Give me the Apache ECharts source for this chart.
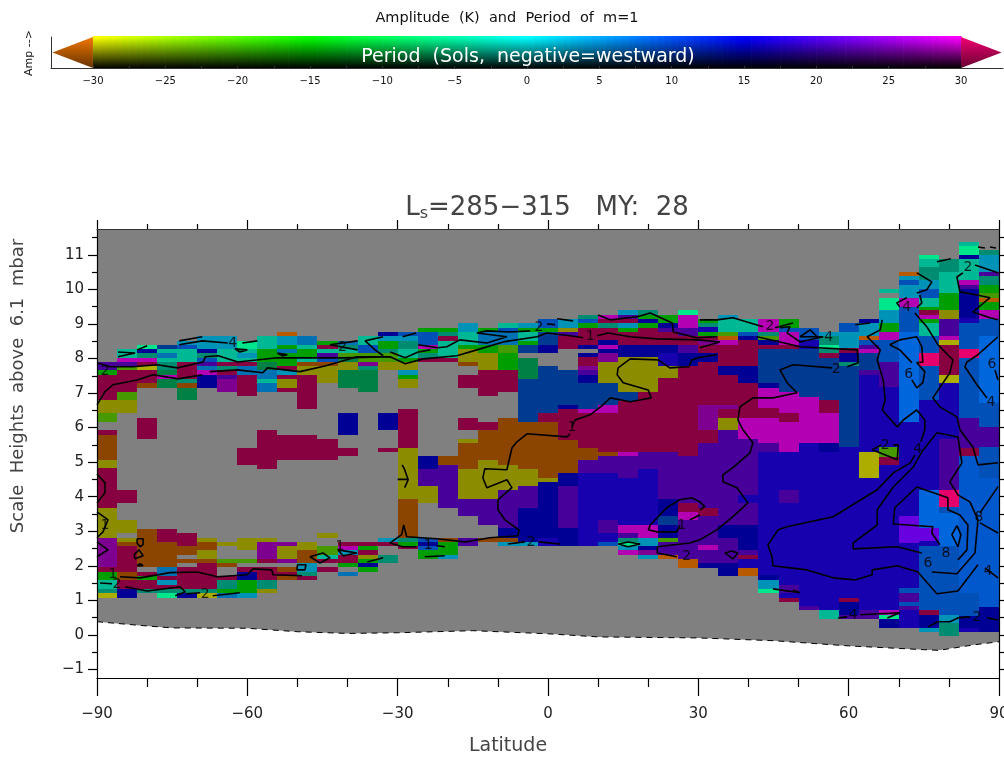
<!DOCTYPE html>
<html>
<head>
<meta charset="utf-8">
<title>Amplitude and Period of m=1</title>
<style>
html, body { margin: 0; padding: 0; background: #fff; }
#echart { width: 1004px; height: 761px; }
</style>
<script src="https://cdn.jsdelivr.net/npm/echarts@6/dist/echarts.min.js"></script>
</head>
<body>
<div id="echart"></div>
<script>
var FONT = '"DejaVu Sans", sans-serif';

var tonePeriod = {C:33,R:33,O:-33,F:-33,Y:-30,L:-30,E:-22,G:-15,H:-7,T:-3,A:-3,Q:-6,S:3,W:5.5,U:9,J:8.5,B:8.5,K:8,N:15,I:17,V:22,Z:22,P:28,M:30};
var toneAmp = {C:.53,R:.9,O:.55,F:.72,Y:.55,L:.68,E:.6,G:.62,H:.5,T:.55,A:.72,Q:.9,S:.72,W:.7,U:.57,J:.72,B:.8,K:.86,N:.58,I:.68,V:.6,Z:.88,P:.57,M:.7};

// one stack per latitude bin, bottom to top: height, tone, height, tone ... height ('_' = no data)
var latBins = [-88,-84,-80,-76,-72,-68,-64,-60,-56,-52,-48,-44,-40,-36,-32,-28,-24,-20,-16,-12,-8,-4,0,4,8,12,16,20,24,28,32,36,40,44,48,52,56,60,64,68,72,76,80,84,88];
var cellStacks = [
[1.07,'L',1.22,'T',1.33,'A',1.59,'G',1.82,'C',1.97,'P',2.81,'Y',3.68,'C',4.84,'Y',5.07,'O',5.79,'C',5.94,'_',6.17,'E',6.43,'Y',6.80,'C',7.53,'G',7.67,'V',7.90],
[1.07,'N',1.33,'C',1.59,'O',1.82,'C',2.58,'O',2.69,'Y',2.81,'_',2.95,'Y',3.33,'_',3.82,'C',4.20,'_',6.43,'Y',6.80,'E',7.04,'C',7.67,'E',7.79,'V',7.90,'M',8.02,'A',8.28],
[1.22,'T',1.33,'C',1.59,'G',1.71,'C',1.82,'_',1.97,'O',3.07,'_',5.67,'C',6.28,'_',7.15,'O',7.30,'C',7.67,'L',7.79,'C',7.90,'M',8.02,'T',8.16,'N',8.28,'Q',8.40],
[1.07,'Q',1.22,'T',1.33,'C',1.45,'S',1.59,'C',1.71,'W',1.97,'O',2.69,'C',3.07,'_',7.15,'H',7.41,'M',7.53,'H',7.67,'T',7.90,'A',8.02,'W',8.16,'A',8.28,'U',8.40],
[1.07,'N',1.22,'T',1.33,'C',1.97,'_',2.08,'O',2.20,'_',2.32,'O',2.58,'C',2.95,'_',6.80,'H',7.15,'O',7.30,'T',7.41,'C',7.90,'A',8.28,'J',8.40,'S',8.51],
[1.07,'L',1.22,'T',1.33,'C',2.08,'O',2.20,'Y',2.46,'O',2.69,'Y',2.81,'_',7.15,'N',7.53,'M',7.67,'W',7.79,'V',7.90,'J',8.02,'T',8.16,'N',8.28,'S',8.66],
[1.07,'W',1.22,'G',1.33,'T',1.59,'C',1.71,'_',1.97,'O',2.08,'E',2.20,'_',2.58,'Y',2.69,'_',7.04,'P',7.41,'V',7.53,'C',7.67,'T',7.79,'C',7.90,'A',8.28,'S',8.66],
[1.07,'S',1.22,'G',1.59,'N',1.82,'C',1.97,'_',2.08,'E',2.20,'_',2.46,'Y',2.81,'_',4.92,'C',5.41,'_',6.92,'C',7.53,'W',7.79,'C',7.90,'A',8.02,'S',8.16,'A',8.28,'Q',8.51],
[1.22,'Y',1.33,'T',1.59,'C',1.97,'_',2.08,'C',2.20,'P',2.69,'Y',2.81,'_',4.81,'C',5.94,'_',7.04,'W',7.30,'A',7.41,'W',7.67,'H',7.90,'G',8.28,'A',8.66],
[1.59,'O',1.71,'C',1.82,'O',1.97,'_',2.08,'P',2.20,'Y',2.58,'P',2.69,'_',5.07,'C',5.79,'_',7.04,'C',7.15,'Y',7.41,'C',7.53,'S',7.67,'C',7.79,'G',8.16,'W',8.28,'G',8.40,'S',8.66,'F',8.77],
[1.59,'C',1.71,'T',1.82,'S',2.08,'O',2.46,'Y',2.69,'_',5.07,'C',5.79,'_',6.54,'C',7.53,'Y',7.79,'O',7.90,'A',8.02,'G',8.28,'A',8.40,'W',8.66],
[1.82,'C',1.97,'_',2.08,'C',2.20,'A',2.32,'E',2.58,'_',2.81,'Y',2.95,'_',5.07,'C',5.67,'_',7.30,'Y',7.79,'O',7.90,'J',8.02,'V',8.16,'A',8.28,'C',8.40,'G',8.51],
[1.71,'W',1.82,'_',1.97,'G',2.08,'C',2.32,'S',2.46,'M',2.58,'C',2.69,'_',5.18,'C',5.41,'_',5.79,'N',6.43,'_',7.15,'H',7.67,'Y',7.90,'H',8.02,'E',8.16,'A',8.28,'T',8.40,'W',8.51],
[1.82,'G',1.97,'N',2.08,'G',2.20,'Y',2.32,'C',2.46,'G',2.58,'C',2.69,'_',7.04,'H',7.67,'T',7.79,'P',7.90,'E',8.16,'J',8.40,'A',8.66],
[2.08,'T',2.32,'_',2.58,'C',2.69,'S',2.81,'_',5.30,'C',5.41,'_',5.94,'N',6.43,'_',7.67,'Y',7.90,'E',8.16,'T',8.28,'G',8.51,'S',8.66,'N',8.77],
[2.49,'C',2.58,'G',2.69,'T',2.81,'O',3.94,'Y',5.41,'C',6.54,'_',7.15,'Y',7.41,'G',7.53,'S',7.67,'Y',7.90,'G',8.02,'A',8.28,'T',8.51,'S',8.66,'J',8.77],
[2.20,'G',2.46,'J',2.58,'N',2.69,'J',2.81,'_',3.82,'Y',4.31,'V',4.81,'N',5.18,'_',7.90,'C',8.02,'T',8.16,'G',8.28,'M',8.40,'J',8.77,'G',8.89],
[2.20,'S',2.32,'G',2.69,'O',2.81,'_',3.68,'V',4.92,'O',5.18,'_',7.90,'C',8.02,'A',8.51,'C',8.66,'T',8.77,'G',8.89],
[2.58,'V',2.81,'_',3.45,'V',3.94,'Y',4.81,'O',5.56,'Y',5.67,'_',5.94,'C',6.28,'_',7.15,'C',7.53,'_',7.79,'O',7.90,'Y',8.28,'G',8.40,'A',8.77,'S',9.03],
[2.69,'O',2.81,'_',3.18,'V',3.94,'Y',5.07,'O',5.94,'C',6.17,'_',6.92,'C',7.67,'Y',8.16,'G',8.40,'W',8.77,'G',8.89],
[2.58,'S',2.69,'O',2.81,'N',3.10,'V',4.20,'Y',4.92,'O',6.28,'_',7.04,'C',7.67,'G',8.16,'E',8.40,'W',8.77,'J',8.89,'A',9.03],
[2.58,'S',2.69,'N',3.68,'V',4.31,'Y',4.81,'O',6.17,'U',7.41,'H',8.02,'_',8.16,'U',8.40,'G',8.51,'A',8.77,'G',8.89,'S',9.03],
[2.58,'I',2.81,'N',4.43,'Y',4.55,'O',6.17,'C',6.43,'U',7.79,'_',8.16,'N',8.40,'U',8.77,'G',8.89,'J',9.15],
[2.58,'N',3.10,'V',4.31,'N',4.69,'O',5.64,'C',6.54,'N',6.66,'U',7.67,'_',8.28,'C',8.66,'V',8.77,'Y',8.89,'S',9.15],
[2.58,'I',4.69,'V',5.07,'O',5.41,'C',6.43,'M',6.54,'U',7.30,'N',7.53,'V',7.67,'P',7.79,'C',8.05,'N',8.16,'_',8.28,'N',8.40,'C',8.89,'G',9.03,'J',9.15,'T',9.26],
[2.58,'J',2.69,'I',2.95,'V',3.33,'I',4.69,'V',5.18,'O',5.30,'C',6.43,'M',6.66,'U',7.30,'Y',7.90,'P',8.16,'N',8.28,'M',8.40,'N',8.54,'C',8.89,'T',9.03,'C',9.15,'M',9.26],
[2.32,'M',2.46,'S',2.58,'Q',2.69,'T',2.81,'V',2.95,'M',3.18,'I',4.55,'V',5.18,'M',5.30,'C',6.77,'U',7.04,'Y',8.05,'N',8.40,'C',8.77,'G',8.89,'S',9.03,'C',9.15,'V',9.26,'S',9.41],
[2.20,'S',2.32,'P',2.46,'N',2.58,'S',2.81,'M',3.18,'I',4.81,'V',5.30,'C',7.04,'Y',8.05,'N',8.40,'C',8.89,'G',9.03,'N',9.15,'G',9.26,'T',9.41],
[2.20,'F',2.32,'V',2.69,'E',2.81,'N',3.18,'U',3.45,'N',3.94,'V',5.30,'C',7.44,'Y',7.79,'I',8.16,'N',8.40,'C',8.77,'V',8.89,'N',9.03,'G',9.26],
[1.94,'F',2.20,'V',3.33,'M',3.56,'C',3.82,'V',5.18,'C',7.79,'N',8.16,'V',8.40,'C',8.66,'V',8.89,'M',9.26,'Q',9.41],
[1.94,'N',2.08,'V',2.46,'M',2.60,'V',3.45,'C',3.68,'V',5.56,'C',5.94,'P',6.66,'C',7.90,'N',8.16,'C',8.40,'P',8.54,'C',8.66,'G',8.77,'I',8.92,'T',9.03,'G',9.15],
[1.71,'N',2.08,'V',2.81,'N',3.18,'V',5.94,'Y',6.28,'C',6.54,'P',6.66,'C',7.53,'N',7.79,'C',8.40,'M',8.54,'F',8.66,'E',8.77,'A',9.15,'S',9.26],
[1.71,'F',1.94,'I',2.20,'C',2.32,'V',2.46,'N',3.18,'V',3.82,'I',4.05,'V',5.67,'M',6.28,'C',7.30,'N',7.79,'C',8.54,'N',8.66,'J',8.77,'A',9.15],
[1.22,'Q',1.33,'S',1.59,'N',1.74,'I',5.30,'V',5.56,'M',6.28,'C',6.57,'M',7.15,'N',7.30,'U',8.28,'C',8.40,'N',8.54,'E',8.66,'T',8.77,'M',9.15],
[.96,'C',1.07,'I',1.22,'V',1.45,'I',3.82,'V',4.20,'I',5.30,'M',6.17,'C',6.43,'M',7.04,'U',8.28,'C',8.40,'M',8.77,'J',8.89,'G',9.15],
[.72,'V',.84,'I',5.56,'M',6.89,'U',8.28,'I',8.54,'J',8.89],
[.46,'A',.72,'I',5.30,'N',5.56,'M',6.43,'C',6.80,'U',8.02,'C',8.16,'T',8.28,'Q',8.40,'T',8.66,'S',8.77],
[.46,'V',.58,'N',.96,'C',1.07,'I',5.44,'U',7.79,'T',7.90,'N',8.16,'C',8.31,'S',8.77,'J',9.03],
[.46,'V',.72,'I',4.55,'L',5.30,'I',7.53,'V',7.67,'U',8.16,'M',8.28,'V',8.40,'J',8.54,'F',8.66,'S',9.03,'N',9.15],
[.20,'N',.46,'Q',.58,'M',.72,'I',4.92,'C',5.15,'E',5.44,'I',7.18,'V',7.90,'J',8.54,'M',8.77,'G',9.03,'S',9.41,'Q',9.76,'_',9.90,'A',10.02],
[.20,'I',.72,'V',.84,'J',.96,'V',1.22,'J',1.36,'I',2.66,'Z',3.45,'I',6.17,'K',8.77,'J',9.50,'M',9.76,'S',10.13,'J',10.28,'S',10.39,'F',10.51],
[.09,'S',.20,'N',.58,'C',.72,'J',2.58,'I',2.72,'Z',3.10,'K',4.20,'I',6.80,'J',7.79,'R',8.16,'J',8.66,'A',9.03,'G',9.15,'M',9.26,'C',9.41,'G',9.50,'A',9.76,'J',10.02,'S',10.28,'T',10.65,'A',10.89,'Q',11.0],
[-.03,'T',.35,'S',.58,'J',2.58,'K',3.53,'J',3.71,'R',4.20,'V',5.67,'I',7.30,'L',7.53,'C',8.40,'L',8.54,'M',8.66,'V',9.15,'Y',9.41,'G',9.90,'A',10.51,'T',10.89],
[.09,'I',.20,'N',.55,'J',1.22,'B',5.18,'C',5.41,'V',6.28,'J',8.02,'R',8.28,'J',9.03,'I',9.18,'N',10.02,'V',10.13,'M',10.28,'A',10.89,'N',11.0,'Q',11.26,'A',11.38],
[.09,'N',.81,'B',4.55,'J',5.44,'V',6.02,'J',6.72,'K',8.66,'J',9.15,'M',9.41,'G',9.64,'F',9.76,'E',9.90,'G',10.13,'T',10.39,'V',10.51,'S',11.0,'T',11.15]
];

// surface height along the bottom of the data (dashed line)
var surfaceLat = [-90,-82,-75,-60,-50,-40,-30,-15,0,10,30,45,60,75,78,85,90];
var surfaceZ = [.38,.28,.2,.19,.09,.04,.06,.12,.03,-.06,-.09,-.17,-.32,-.43,-.45,-.29,-.2];

// amplitude contours, each a flat list lat,z,lat,z...
var contourLines = [
[-90,6.66,-88.4,7.04,-86.8,7.24,-82,7.38,-78.8,7.53,-73.8,7.41,-69,7.53],
[-67.5,7.62,-62,7.67,-56.9,7.59,-56,7.73,-49.5,7.62,-44.3,7.79,-38.1,8.05,-31.5,8.05],
[-90,7.88,-87.4,7.76,-82.8,7.76,-78,7.82,-74,7.73,-68.8,7.9,-68.4,8.05,-65.8,8.08,-61.9,7.9,-54,8.02,-40.9,8.02,-31.5,8.05,-28.5,7.85,-24.9,7.99,-18.2,8.08,-14.2,8.25,-8.6,8.49,-2.2,8.63,-.2,8.74,4.4,8.66,7,8.6],
[9.8,8.66,12,8.74,16.4,8.63,21.8,8.57,29.9,8.54,34.3,8.48,31.7,8.37,30.3,8.31],
[-25.9,8.4,-22,8.31,-20.2,8.34,-17.6,8.54,-12.2,8.45,-8.2,8.63,-14.2,8.74,-12.2,8.8,-7.6,8.77,-3.6,8.8],
[-31.5,8.19,-28.5,8.02,-25.9,8.19,-23.5,8.25],
[-32.9,8.08,-34.5,8.25,-36.5,8.51,-32.9,8.63],
[10,9.26,12.4,9.12,17.8,9.21,20.4,9.32,24.8,9.03,25,8.77,29.7,8.6,33.7,8.63],
[30.3,9.12,33.7,9.12,36.9,9.18,42.9,8.92],
[45.3,8.89,48.9,9.03],
[46.3,8.89,48.3,8.92,47.7,8.74,50.3,8.48,54.9,8.63,50.3,8.63,52.3,8.83,53.7,8.63],
[41.7,8.63,46.3,8.48,50.3,8.34,61.7,8.25,61.9,7.88,59.7,7.76],
[56.7,7.73,48.9,7.82,46.3,7.67,47.7,7.3,49.7,7.01,44.9,6.86,40.9,6.86,38.3,6.6,37.9,6.22,38.9,5.94,40.9,5.56,40.3,5.27,36.9,4.84,34.9,4.63,34.9,4.43,37.7,4.26,39.9,3.82,36.9,3.42,33.7,3.04,30.3,2.75,28.3,2.66,21.8,2.55,21.8,2.37,25.7,2.26],
[20,3.04,20.4,3.18,23.7,3.68,26.3,3.91,28.7,3.97,30.3,3.85,31.3,3.71,30.3,3.62],
[28.3,3.33,30.3,3.47],
[26.3,3.18,25.7,2.98,21.8,2.98,20,3.04],
[33.7,8.11,29.9,8.02,28.7,7.96,28.1,7.76,24.3,7.73,22,7.96,16.4,7.99,14,7.73,13.8,7.53,15,7.3,20,7.09,20.6,6.86,16.4,6.75,12.4,6.86,11,6.66,8.4,6.37,5.4,6.22,4.8,6.02],
[4.4,5.82,3.8,5.73,-4.2,5.82,-6.2,5.59,-7.2,5.41,-8.2,4.78,-12.6,4.81,-13,4.55,-12.2,4.26,-8.2,4.49,-7.2,4.26,-10,3.91,-10,3.62,-8.6,3.33,-5.8,3.04,-6,2.87,-11.6,2.81,-16.6,2.69,-22.2,2.78,-28.2,2.84,-28.8,3.18,-29.2,2.9,-31.5,2.66,-29,2.55,-26.2,2.55],
[-22.2,2.58,-20.6,2.55],
[-24.6,2.26,-20.6,2.29],
[-47.5,2.26,-45.5,2.08,-43.5,2.23,-44.9,2.37,-47.5,2.26],
[-41.9,2.46,-40.9,2.29,-38.1,2.37,-41.9,2.46],
[-36.1,2.11,-32.9,2.23],
[-50,2.03,-48.3,2.03,-48.5,1.88,-50.1,1.88,-50,2.03],
[-85.4,1.68,-81.4,1.65,-75.4,1.8,-70,1.82,-66,1.68,-60,1.74,-58.9,1.91,-55.1,1.88,-54.9,1.74,-49.1,1.71],
[-84.4,1.39,-80,1.27,-73.4,1.39,-72.4,1.24,-74.4,1.13],
[-72.2,1.19,-69.4,1.22],
[-66.9,1.13,-61.5,1.22],
[-82,2.78,-80.8,2.78,-80.8,2.61,-81.4,2.55,-82,2.66,-82,2.78],
[-82.6,2.32,-81.6,2.46,-80.8,2.29,-82.4,2.2,-82.6,2.32],
[-82,2,-81.4,2.06,-80.8,2,-82,2],
[-90,4.66,-88.4,4.4,-88.4,4.11,-90,3.82],
[-90,3.56,-87.8,3.33,-88.8,2.98,-90,2.81],
[-90,2.69,-87.8,2.46,-90,2.26],
[-89.4,1.5,-87,1.48],
[-73.6,8.51,-69,8.63],
[-73.6,8.4,-69,8.51,-63.9,8.45],
[-61,8.45,-58,8.51],
[-85.8,8.19,-82.4,8.16,-85.8,8.05],
[-82,8.25,-80,8.37],
[-62.5,8.28,-60,8.25,-61.5,8.19,-62.5,8.28],
[-54,8.16,-52,8.11,-53,8.08,-54,8.16],
[-43.5,8.4,-38,8.51],
[-43.5,8.4,-38,8.25],
[-29,8.63,-26.3,8.74],
[-.2,9,1.4,8.98],
[1.8,9.15,5,9.09],
[66.7,9.12,66.3,8.83,63.7,8.63,66.3,8.25,65.7,7.96,66.9,7.38,67.3,6.8,66.7,6.51,69.7,6.02,70.9,6.22,73.6,6.51,75.2,6.22,75.2,5.94,74.4,5.59],
[73.2,5.21,72.3,4.98,68.9,4.69,65.7,4.2,56.9,3.42,47.7,3.13,45.9,3.04,43.9,2.61,44.7,2.26,44.9,2,51.7,1.88,56.9,1.65,61.3,1.59,64.7,1.74,64.7,1.88,69.7,2,73.8,1.82,77.6,1.19,81.8,1.27,85.8,2.03],
[87.2,1.94,89.8,1.65],
[77.6,5.85,74.6,5.3,72.9,4.86,68.9,4.28,65.7,3.62,65.7,3.18,60.9,2.66,60.9,2.49,69.7,2.55,74.6,2.37],
[76.6,1.82,81.6,1.77,85.2,2.37,85.8,3.33,84.2,3.85,81.8,4.05,80.2,4.43,82.6,4.98,81.8,5.73,77.6,5.85],
[73.6,4.28,69.2,3.68,68.9,3.21,76.8,3.13,76.6,2.95,78.2,2.61],
[81.8,2.17,83.6,2.46,83.8,3.18,82.2,3.47,79.8,3.62,79.8,3.97,73.6,4.28],
[81.6,3.16,80.6,2.9,81.8,2.55,82.4,2.9,81.6,3.16],
[86.2,3.24,89.8,2.95],
[86.2,3.53,89.8,4.29],
[73.2,9.32,75.6,8.92,77.8,8.4,80.8,7.96,80.2,7.59,76.8,6.86,78.2,6.6,81.6,6.31,82.2,5.94,84.8,5.44,85.8,4.92,89.8,4.98],
[89.8,8.63,85.8,8.11,83.6,7.9,83.2,7.76,85.6,7.24,87.6,6.86],
[89.2,7.67,89.8,7.38],
[68.2,8.4,70.2,8.54,73.6,8.63,74.6,8.34,74.8,7.9,73.6,7.88,75.2,7.62,74.8,7.3,73.6,7.15,72.6,7.38],
[72.6,7.88,70.2,8.25,68.2,8.4],
[73.6,10.48,76.6,10.22,75.6,9.99,73.6,9.9],
[74.2,9.84,74.6,9.61,73.6,9.47],
[71.6,9.76,69.6,9.61,70.2,9.5],
[77.6,10.8,80.4,10.89],
[85.2,10.71,89.8,10.48],
[82.8,10.48,81.6,10.36,82.2,9.93,85.6,9.84,88.2,9.76,85.8,9.47,84.8,9.35,88.2,9.18,89.8,9.12],
[85.8,11.23,87.2,11.2],
[88.2,11.23,89.4,11.2],
[61.3,8.98,64.3,9.03],
[64.7,5.36,69.7,5.07,69.9,5.5,68.9,5.5],
[64.7,5.36,66.5,5.5],
[75.8,.23,77.8,.38,80.2,.38,81.8,.49,84.2,.52],
[87.6,.49,89.8,.43],
[57.9,.49,59.7,.52],
[62.3,.58,70.2,.64,67.7,.49],
[44.9,1.33,50.3,1.22,48.9,1.3],
[35.3,2.37,36.7,2.43,37.9,2.37,36.9,2.2,35.3,2.37],
[14,2.63,16,2.69,18.4,2.63,16,2.55,14,2.63],
[-8,2.63,-4.6,2.69],
[-1.8,2.69,2.4,2.63],
[-29.1,4.92,-28.6,4.78,-27.9,4.49,-28.6,4.26],
[-30,4.5,-28,4.5]
];

// contour labels: lat, z, text
var contourLabels = [
[-1.8,8.89,'2'],[8.4,8.63,'1'],[-62.9,8.45,'4'],[-41,8.31,'2'],[44.3,8.92,'2'],[56,8.6,'4'],[57.5,7.7,'2'],
[71.6,9.47,'4'],[83.8,10.63,'2'],[72,7.53,'6'],[88.4,6.72,'4'],[88.6,7.82,'6'],[86,3.39,'8'],[67.3,5.5,'2'],
[73.8,5.36,'4'],[79.4,2.37,'8'],[75.8,2.06,'6'],[87.8,1.85,'4'],[85.6,.52,'2'],[60.9,.55,'4'],[27.7,2.26,'2'],
[-3.4,2.69,'2'],[-23.9,2.58,'1'],[-86.8,1.74,'1'],[-86,1.45,'2'],[-68.4,1.16,'2'],[-41.5,2.55,'1'],
[-88.4,7.62,'2'],[-88.4,3.16,'1'],[26.7,3.16,'1'],[4.8,6,'1']
];

var latTicks = [-90,-60,-30,0,30,60,90];
var latMinorTicks = [-80,-70,-50,-40,-20,-10,10,20,40,50,70,80];
var zTicks = [-1,0,1,2,3,4,5,6,7,8,9,10,11];
var zMinorTicks = [-.5,.5,1.5,2.5,3.5,4.5,5.5,6.5,7.5,8.5,9.5,10.5,11.5];
var barTicks = [-30,-25,-20,-15,-10,-5,0,5,10,15,20,25,30];
var barMinorTicks = [-27.5,-22.5,-17.5,-12.5,-7.5,-2.5,2.5,7.5,12.5,17.5,22.5,27.5];

// period -> fully bright colour, same ramp as the colour bar
function hue(p) {
    if (p < -30) return [255, 125, 0];
    if (p > 30) return [255, 0, 120];
    if (p < -15) return [255 * (-15 - p) / 15, 255, 0];
    if (p < 0) return [0, 255, 255 * (p + 15) / 15];
    if (p < 15) return [0, 255 * (15 - p) / 15, 255];
    return [255 * (p - 15) / 15, 0, 255];
}
function toneColor(p, a) {
    var c = hue(p);
    return 'rgb(' + Math.round(c[0] * a) + ',' + Math.round(c[1] * a) + ',' + Math.round(c[2] * a) + ')';
}

var cells = [];
cellStacks.forEach(function (stack, i) {
    for (var k = 1; k < stack.length; k += 2) {
        var t = stack[k];
        if (t === '_') continue;
        cells.push([latBins[i], stack[k - 1], stack[k + 1], tonePeriod[t], toneAmp[t]]);
    }
});

var barCells = [];
for (var p = -30; p < 30; p += 0.5) {
    for (var a = 0; a < 1; a += 1 / 31) {
        barCells.push([p, a]);
    }
}

function renderCell(params, api) {
    var halfBin = 2;
    var a = api.coord([api.value(0) - halfBin, api.value(2)]);
    var b = api.coord([api.value(0) + halfBin, api.value(1)]);
    var x0 = Math.round(a[0]), y0 = Math.round(a[1]);
    return {
        type: 'rect',
        shape: {x: x0, y: y0, width: Math.round(b[0]) - x0, height: Math.round(b[1]) - y0},
        style: {fill: toneColor(api.value(3), api.value(4))}
    };
}
function renderBarCell(params, api) {
    var a = api.coord([api.value(0), api.value(1) + 1 / 31]);
    var b = api.coord([api.value(0) + 0.5, api.value(1)]);
    return {
        type: 'rect',
        shape: {x: a[0], y: a[1], width: b[0] - a[0] + 0.5, height: b[1] - a[1] + 0.5},
        style: {fill: toneColor(api.value(0) + 0.25, api.value(1) + 1 / 62)}
    };
}
function renderArrow(params, api) {
    var base = api.value(0), tip = api.value(1);
    var p0 = api.coord([base, 1]), p1 = api.coord([base, 0]), p2 = api.coord([tip, 0.5]);
    var top = toneColor(base * 1.1, 0.95), bottom = toneColor(base * 1.1, 0.4);
    return {
        type: 'polygon',
        shape: {points: [p0, p2, p1]},
        style: {fill: new echarts.graphic.LinearGradient(0, 0, 0, 1, [{offset: 0, color: top}, {offset: 1, color: bottom}])}
    };
}

function minus(v) { return String(v).replace('-', '\u2212'); }

var series = [
    {
        type: 'line', xAxisIndex: 0, yAxisIndex: 0, z: 1,
        data: surfaceLat.map(function (v, i) { return [v, surfaceZ[i]]; }),
        showSymbol: false, silent: true,
        lineStyle: {color: '#000', width: 1, type: [6, 5]},
        areaStyle: {origin: 'end', color: '#808080', opacity: 1}
    },
    {
        type: 'custom', xAxisIndex: 0, yAxisIndex: 0, z: 2, silent: true,
        renderItem: renderCell, data: cells, encode: {x: 0, y: [1, 2]}
    },
    {
        type: 'custom', xAxisIndex: 4, yAxisIndex: 4, z: 2, silent: true,
        renderItem: renderBarCell, data: barCells, encode: {x: 0, y: 1}
    },
    {
        type: 'custom', xAxisIndex: 4, yAxisIndex: 4, z: 2, silent: true,
        renderItem: renderArrow, data: [[-30, -32.8], [30, 32.8]], encode: {x: [0, 1]}
    }
];
contourLines.forEach(function (line) {
    var pts = [];
    for (var i = 0; i < line.length; i += 2) pts.push([line[i], line[i + 1]]);
    series.push({
        type: 'line', xAxisIndex: 0, yAxisIndex: 0, z: 3, silent: true,
        data: pts, showSymbol: false,
        lineStyle: {color: '#000', width: 1.6}
    });
});
series.push({
    type: 'scatter', xAxisIndex: 0, yAxisIndex: 0, z: 4, silent: true,
    symbolSize: 0, data: contourLabels,
    label: {
        show: true, position: 'inside', color: '#000', fontFamily: FONT, fontSize: 14,
        formatter: function (p) { return p.data[2]; }
    }
});

var tickLine = {color: '#000', width: 1.2};
var thinLine = {color: '#333', width: 1};
var myChart = echarts.init(document.getElementById('echart'));
var option = {
    animation: false,
    backgroundColor: '#fff',
    grid: [
        {left: 97, top: 229, width: 902, height: 449, outerBoundsMode: 'none'},
        {left: 51, top: 37, width: 952, height: 31, outerBoundsMode: 'none'}
    ],
    xAxis: [
        {
            type: 'value', gridIndex: 0, min: -90, max: 90, z: 10, position: 'bottom',
            splitLine: {show: false},
            axisLine: {onZero: false, lineStyle: tickLine},
            axisTick: {length: 18, lineStyle: tickLine, customValues: latTicks},
            axisLabel: {customValues: latTicks, margin: 29, color: '#222', fontFamily: FONT, fontSize: 15, formatter: minus}
        },
        {
            type: 'value', gridIndex: 0, min: -90, max: 90, z: 10, position: 'bottom',
            splitLine: {show: false},
            axisLine: {show: false, onZero: false},
            axisTick: {length: 9, lineStyle: tickLine, customValues: latMinorTicks},
            axisLabel: {show: false}
        },
        {
            type: 'value', gridIndex: 0, min: -90, max: 90, z: 10, position: 'top',
            splitLine: {show: false},
            axisLine: {onZero: false, lineStyle: thinLine},
            axisTick: {length: 9, lineStyle: tickLine, customValues: latTicks},
            axisLabel: {show: false}
        },
        {
            type: 'value', gridIndex: 0, min: -90, max: 90, z: 10, position: 'top',
            splitLine: {show: false},
            axisLine: {show: false, onZero: false},
            axisTick: {length: 5, lineStyle: tickLine, customValues: latMinorTicks},
            axisLabel: {show: false}
        },
        {
            type: 'value', gridIndex: 1, min: -32.9, max: 32.9, z: 10, position: 'bottom',
            splitLine: {show: false},
            axisLine: {onZero: false, lineStyle: thinLine},
            axisTick: {inside: true, length: 2, lineStyle: {color: '#333'}, customValues: barTicks.concat(barMinorTicks)},
            axisLabel: {customValues: barTicks, margin: 8, color: '#111', fontFamily: FONT, fontSize: 10, formatter: minus}
        }
    ],
    yAxis: [
        {
            type: 'value', gridIndex: 0, min: -1.25, max: 11.75, z: 10, position: 'left',
            splitLine: {show: false},
            axisLine: {onZero: false, lineStyle: tickLine},
            axisTick: {length: 9, lineStyle: tickLine, customValues: zTicks},
            axisLabel: {customValues: zTicks, margin: 13, color: '#222', fontFamily: FONT, fontSize: 15, formatter: minus}
        },
        {
            type: 'value', gridIndex: 0, min: -1.25, max: 11.75, z: 10, position: 'left',
            splitLine: {show: false},
            axisLine: {show: false, onZero: false},
            axisTick: {length: 5, lineStyle: tickLine, customValues: zMinorTicks},
            axisLabel: {show: false}
        },
        {
            type: 'value', gridIndex: 0, min: -1.25, max: 11.75, z: 10, position: 'right',
            splitLine: {show: false},
            axisLine: {onZero: false, lineStyle: tickLine},
            axisTick: {length: 9, lineStyle: tickLine, customValues: zTicks},
            axisLabel: {show: false}
        },
        {
            type: 'value', gridIndex: 0, min: -1.25, max: 11.75, z: 10, position: 'right',
            splitLine: {show: false},
            axisLine: {show: false, onZero: false},
            axisTick: {length: 5, lineStyle: tickLine, customValues: zMinorTicks},
            axisLabel: {show: false}
        },
        {
            type: 'value', gridIndex: 1, min: 0, max: 1, z: 10, position: 'left',
            splitLine: {show: false},
            axisLine: {onZero: false, lineStyle: thinLine},
            axisTick: {show: false},
            axisLabel: {show: false}
        }
    ],
    series: series,
    graphic: [
        {type: 'text', x: 507, y: 18, style: {text: 'Amplitude  (K)  and  Period  of  m=1', font: '14.5px ' + FONT, fill: '#111', align: 'center', verticalAlign: 'middle'}},
        {type: 'text', x: 29, y: 53, rotation: Math.PI / 2, style: {text: 'Amp -->', font: '11px ' + FONT, fill: '#111', align: 'center', verticalAlign: 'middle'}},
        {type: 'text', x: 528, y: 57, z: 20, style: {text: 'Period  (Sols,  negative=westward)', font: '19px ' + FONT, fill: '#fff', align: 'center', verticalAlign: 'middle'}},
        {type: 'text', x: 547, y: 208, style: {
            text: '{a|L}{b|s}{a|=285\u2212315   MY:  28}', align: 'center', verticalAlign: 'middle', fill: '#444',
            rich: {a: {font: '26px ' + FONT, fill: '#444'}, b: {font: '16px ' + FONT, fill: '#444', padding: [12, 0, 0, 0]}}
        }},
        {type: 'text', x: 18, y: 386, rotation: Math.PI / 2, style: {text: 'Scale  Heights  above  6.1  mbar', font: '18px ' + FONT, fill: '#444', align: 'center', verticalAlign: 'middle'}},
        {type: 'text', x: 508, y: 746, style: {text: 'Latitude', font: '19px ' + FONT, fill: '#444', align: 'center', verticalAlign: 'middle'}}
    ]
};
myChart.setOption(option);
window.onresize = myChart.resize;
</script>
</body>
</html>
